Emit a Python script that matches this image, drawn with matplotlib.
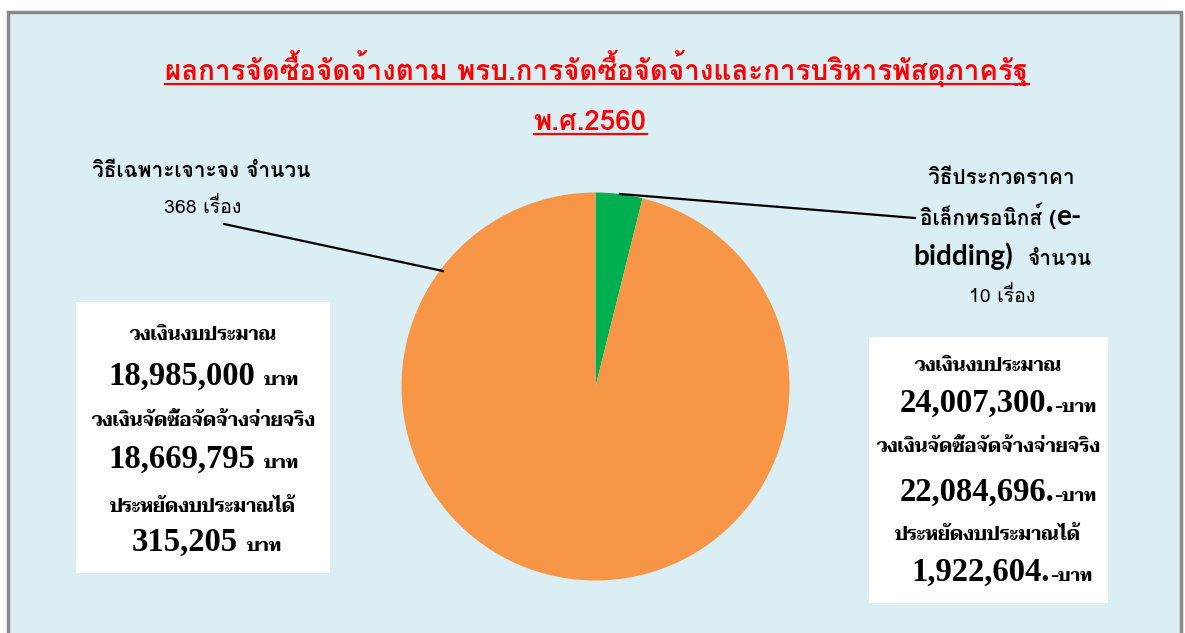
import matplotlib
matplotlib.use("Agg")
import matplotlib.pyplot as plt
from matplotlib import font_manager as fm
from matplotlib.ft2font import FT2Font
from matplotlib.patches import Rectangle
from matplotlib.lines import Line2D

# ---------------- data ----------------
title_line1 = "ผลการจัดซื้อจัดจ้างตาม พรบ.การจัดซื้อจัดจ้างและการบริหารพัสดุภาครัฐ"
title_line2 = "พ.ศ.2560"
methods = ["วิธีประกวดราคาอิเล็กทรอนิกส์ (e-bidding)", "วิธีเฉพาะเจาะจง"]
counts = [10, 368]
pie_share = [3.9, 96.1]          # slice sizes (%)
pie_colors = ["#00B050", "#F79646"]
budget_labels = ["วงเงินงบประมาณ", "วงเงินจัดซื้อจัดจ้างจ่ายจริง", "ประหยัดงบประมาณได้"]
specific_amounts = ["18,985,000", "18,669,795", "315,205"]
ebidding_amounts = ["24,007,300.", "22,084,696.", "1,922,604."]

# ---------------- fonts ----------------
def thai_families():
    found = []
    for f in fm.fontManager.ttflist:
        try:
            cm = FT2Font(f.fname).get_charmap()
        except Exception:
            continue
        if 0x0E01 in cm and f.name not in found:
            found.append(f.name)
    return found

thai_list = thai_families()

def pick(prefs):
    for p in prefs:
        for n in thai_list:
            if p.lower() == n.lower():
                return n
    return thai_list[0] if thai_list else "DejaVu Sans"

THAI_TITLE = pick(["Loma", "Noto Sans Thai Looped", "Noto Sans Thai"])
THAI_LABEL = pick(["Loma", "Noto Sans Thai Looped", "Noto Sans Thai"])
THAI_SERIF = pick(["Taviraj", "Trirong", "Noto Serif Thai", "FreeSerif"])
SERIF = "Liberation Serif"
LATIN = "Lato"

W, H = 1185, 633
fig = plt.figure(figsize=(W / 100, H / 100), dpi=100)
fig.patch.set_facecolor("white")

def fx(x):
    return x / W

def fy(y):
    return 1 - y / H

# background panel
fig.patches.append(Rectangle((fx(8), fy(700)), fx(1181) - fx(8), fy(12) - fy(700),
                             transform=fig.transFigure, facecolor="#DAEEF3",
                             edgecolor="#8A8A8A", linewidth=2.5, zorder=-2))

# white boxes
for (x0, y0, x1, y1) in [(76, 302, 330, 573), (869, 337, 1108, 603)]:
    fig.patches.append(Rectangle((fx(x0), fy(y1)), fx(x1) - fx(x0), fy(y0) - fy(y1),
                                 transform=fig.transFigure, facecolor="white",
                                 edgecolor="none", zorder=-1))

# pie
cx, cy, r = 595.5, 386.5, 194
ax = fig.add_axes([fx(cx - r), fy(cy + r), fx(2 * r), (2 * r) / H])
ax.set_zorder(2)
ax.patch.set_visible(False)
ax.pie(pie_share, colors=pie_colors, startangle=90, counterclock=False,
       radius=1, wedgeprops=dict(linewidth=0))
ax.set_xlim(-1, 1)
ax.set_ylim(-1, 1)
ax.set_aspect("equal")
ax.axis("off")

# leader lines
fig.lines.append(Line2D([fx(224), fx(443)], [fy(224), fy(271)], transform=fig.transFigure,
                        color="black", lw=1.6, zorder=5))
fig.lines.append(Line2D([fx(620), fx(915)], [fy(194), fy(218)], transform=fig.transFigure,
                        color="black", lw=1.6, zorder=5))

def T(x, y, s, **kw):
    kw.setdefault("va", "baseline")
    return fig.text(fx(x), fy(y), s, zorder=6, **kw)

# title
t1 = T(597, 81, title_line1, ha="center", color="red", fontsize=20,
       family=[THAI_TITLE, "DejaVu Sans"], fontweight="bold")
t2 = T(590, 130, title_line2, ha="center", color="red", fontsize=20,
       family=[THAI_TITLE, "DejaVu Sans"], fontweight="bold")

# pie labels
T(201, 177, "วิธีเฉพาะเจาะจง จำนวน", ha="center", fontsize=15, fontweight="bold",
  family=[THAI_LABEL, "DejaVu Sans"])
T(203, 213, f"{counts[1]} เรื่อง", ha="center", fontsize=14,
  family=[THAI_LABEL, "DejaVu Sans"])

T(1001, 184, "วิธีประกวดราคา", ha="center", fontsize=15, fontweight="bold",
  family=[THAI_LABEL, "DejaVu Sans"])
T(1056, 225, "อิเล็กทรอนิกส์ (", ha="right", fontsize=15, fontweight="bold",
  family=[THAI_LABEL, "DejaVu Sans"])
T(1056, 225, "e-", ha="left", fontsize=20, fontweight="bold", family=[LATIN, "DejaVu Sans"])
T(913, 265, "bidding)", ha="left", fontsize=20, fontweight="bold", family=[LATIN, "DejaVu Sans"])
T(1028, 265, "จำนวน", ha="left", fontsize=15, fontweight="bold",
  family=[THAI_LABEL, "DejaVu Sans"])
T(1002, 302, f"{counts[0]} เรื่อง", ha="center", fontsize=14,
  family=[THAI_LABEL, "DejaVu Sans"])

# left box
lb = [340, 426, 512]
ln = [385, 468, 551]
lsplit = [255, 255, 238]
for i in range(3):
    T(203, lb[i], budget_labels[i], ha="center", fontsize=13.3, fontweight="bold",
      family=[THAI_SERIF, "DejaVu Sans"])
    T(lsplit[i], ln[i], specific_amounts[i], ha="right", fontsize=23.5, fontweight="bold",
      family=[SERIF])
    T(lsplit[i] + 9, ln[i], "บาท", ha="left", fontsize=13, fontweight="bold",
      family=[THAI_SERIF, "DejaVu Sans"])

# right box
rb = [371, 452, 540]
rn = [412, 501, 581]
rsplit = [1054, 1054, 1050]
for i in range(3):
    T(988, rb[i], budget_labels[i], ha="center", fontsize=13.3, fontweight="bold",
      family=[THAI_SERIF, "DejaVu Sans"])
    T(rsplit[i], rn[i], ebidding_amounts[i], ha="right", fontsize=23.5, fontweight="bold",
      family=[SERIF])
    T(rsplit[i], rn[i], "-บาท", ha="left", fontsize=12.5, fontweight="bold",
      family=[THAI_SERIF, "DejaVu Sans"])

# underline title lines
fig.canvas.draw()
rend = fig.canvas.get_renderer()
for t, uy in [(t1, 84), (t2, 134)]:
    bb = t.get_window_extent(rend)
    fig.lines.append(Line2D([bb.x0 / W, bb.x1 / W], [fy(uy), fy(uy)], transform=fig.transFigure,
                            color="red", lw=1.6, zorder=6))

fig.savefig("out.png", dpi=100)
